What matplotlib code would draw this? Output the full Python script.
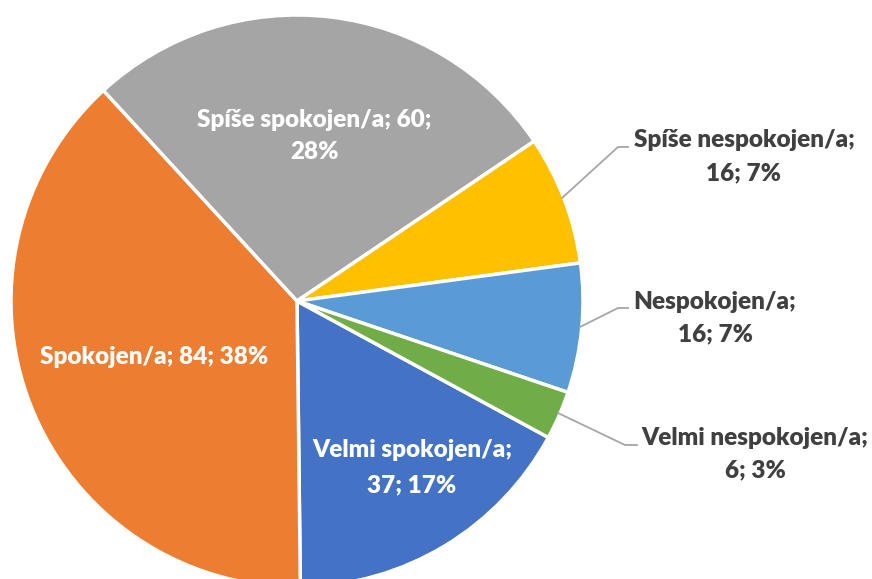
import matplotlib
matplotlib.use("Agg")
import matplotlib.pyplot as plt

categories = ["Velmi spokojen/a", "Spokojen/a", "Spíše spokojen/a",
              "Spíše nespokojen/a", "Nespokojen/a", "Velmi nespokojen/a"]
values = [37, 84, 60, 16, 16, 6]
percents = ["17%", "38%", "28%", "7%", "7%", "3%"]
colors = ["#4472C4", "#ED7D31", "#A5A5A5", "#FFC000", "#5B9BD5", "#70AD47"]

W, H = 872, 579
fig = plt.figure(figsize=(W / 100, H / 100), dpi=100)
ax = fig.add_axes([0, 0, 1, 1])

cx, cy, r = 297, H - 301, 286
ax.pie(values, colors=colors, startangle=331.5, counterclock=False,
       center=(cx, cy), radius=r, frame=True,
       wedgeprops=dict(edgecolor="white", linewidth=2.5))
ax.set_xlim(0, W)
ax.set_ylim(0, H)
ax.set_aspect("equal")
ax.axis("off")

font = dict(family=["Lato", "DejaVu Sans"], fontweight="heavy", fontsize=17.5)

def lab(lines, x, ys, color):
    for line, y in zip(lines, ys):
        ax.text(x, H - y, line, ha="center", va="center", color=color, **font)

# inside labels
lab([f"{categories[2]}; {values[2]};", percents[2]], 314, [120, 152], "white")
lab([f"{categories[1]}; {values[1]}; {percents[1]}"], 154, [357], "white")
lab([f"{categories[0]};", f"{values[0]}; {percents[0]}"], 412, [450, 485], "white")

# outside labels
dark = "#404040"
lab([f"{categories[3]};", f"{values[3]}; {percents[3]}"], 744, [140, 173], dark)
lab([f"{categories[4]};", f"{values[4]}; {percents[4]}"], 715, [302, 334], dark)
lab([f"{categories[5]};", f"{values[5]}; {percents[5]}"], 755, [438, 470], dark)

lc = "#A6A6A6"
for pts in [[(562, 198), (618, 147), (628, 147)],
            [(580, 327), (618, 308), (628, 308)],
            [(558, 413), (625, 445), (637, 445)]]:
    ax.plot([p[0] for p in pts], [H - p[1] for p in pts], color=lc, lw=1.3)

fig.savefig("out.png", dpi=100)
